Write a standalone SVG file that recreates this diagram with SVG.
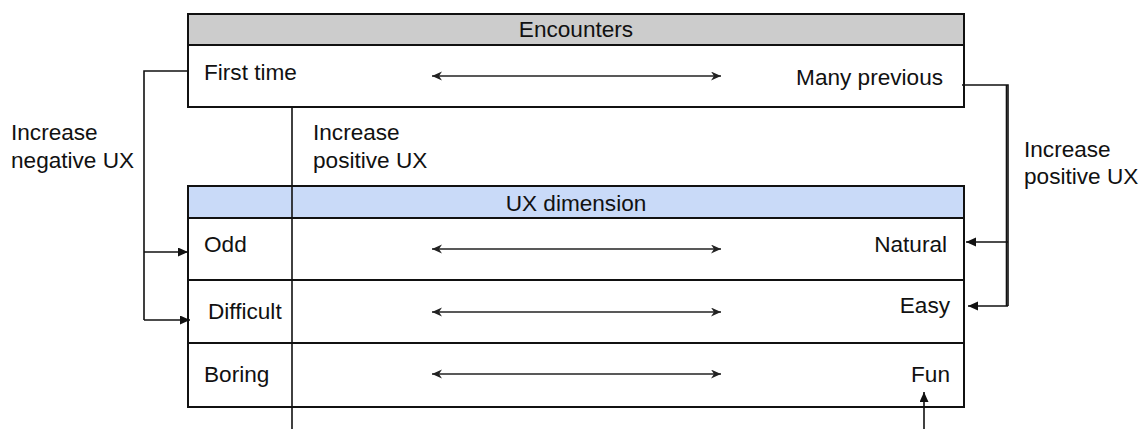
<svg xmlns="http://www.w3.org/2000/svg" width="1147" height="429" viewBox="0 0 1147 429">
  <style>
    .lbl { font-family: "Liberation Sans", Arial, sans-serif; font-size: 22.6px; fill: #111; }
    .mid { text-anchor: middle; }
    .end { text-anchor: end; }
    .box { fill: #fff; stroke: #111; stroke-width: 2; }
    .hdr-grey { fill: #cccccc; stroke: #111; stroke-width: 2; }
    .hdr-blue { fill: #c9daf8; stroke: #111; stroke-width: 2; }
    .rule { stroke: #111; stroke-width: 2; fill: none; }
    .wire { stroke: #111; stroke-width: 1.6; fill: none; }
    .range { stroke: #222; stroke-width: 1.7; fill: none; marker-start: url(#tip-small); marker-end: url(#tip-small); }
  </style>
  <defs>
    <marker id="tip-small" markerUnits="userSpaceOnUse" markerWidth="12" markerHeight="10" refX="10" refY="4.5" orient="auto-start-reverse">
      <path d="M0,0 L10,4.5 L0,9 L3,4.5 Z" fill="#222"/>
    </marker>
    <marker id="tip" markerUnits="userSpaceOnUse" markerWidth="12" markerHeight="10" refX="10" refY="4.5" orient="auto">
      <path d="M0,0 L10,4.5 L0,9 Z" fill="#111"/>
    </marker>
  </defs>

  <!-- Encounters scale -->
  <g id="encounters">
    <rect class="box" x="188" y="14" width="776" height="93"/>
    <rect class="hdr-grey" x="188" y="14" width="776" height="31"/>
    <text class="lbl mid" x="576" y="37">Encounters</text>
    <text class="lbl" x="204" y="80">First time</text>
    <text class="lbl end" x="943" y="85">Many previous</text>
    <line class="range" x1="432" y1="76" x2="721" y2="76"/>
  </g>

  <!-- UX dimension table -->
  <g id="ux-dimension">
    <rect class="box" x="188" y="186" width="776" height="221"/>
    <rect class="hdr-blue" x="188" y="186" width="776" height="32"/>
    <text class="lbl mid" x="576" y="211">UX dimension</text>
  </g>

  <g id="row-odd-natural">
    <line class="rule" x1="188" y1="280" x2="964" y2="280"/>
    <text class="lbl" x="204" y="252">Odd</text>
    <text class="lbl end" x="947" y="252">Natural</text>
    <line class="range" x1="432" y1="249" x2="721" y2="249"/>
  </g>

  <g id="row-difficult-easy">
    <line class="rule" x1="188" y1="343" x2="964" y2="343"/>
    <text class="lbl" x="208" y="319">Difficult</text>
    <text class="lbl end" x="950" y="313">Easy</text>
    <line class="range" x1="432" y1="312" x2="721" y2="312"/>
  </g>

  <g id="row-boring-fun">
    <text class="lbl" x="204" y="382">Boring</text>
    <text class="lbl end" x="950" y="382">Fun</text>
    <line class="range" x1="432" y1="374" x2="721" y2="374"/>
  </g>

  <!-- Side notes -->
  <g id="note-negative">
    <text class="lbl" x="11" y="140">Increase</text>
    <text class="lbl" x="11" y="168">negative UX</text>
  </g>
  <g id="note-positive-mid">
    <text class="lbl" x="313" y="140">Increase</text>
    <text class="lbl" x="313" y="168">positive UX</text>
  </g>
  <g id="note-positive-right">
    <text class="lbl" x="1024" y="157">Increase</text>
    <text class="lbl" x="1024" y="184">positive UX</text>
  </g>

  <!-- Connectors -->
  <g id="connectors">
    <!-- column divider running through both tables -->
    <line class="wire" x1="292" y1="107" x2="292" y2="429"/>
    <!-- first time -> odd / difficult -->
    <polyline class="wire" points="188,71 144,71 144,320"/>
    <line class="wire" x1="144" y1="252" x2="188" y2="252" marker-end="url(#tip)"/>
    <line class="wire" x1="144" y1="320" x2="190" y2="320" marker-end="url(#tip)"/>
    <!-- many previous -> natural / easy -->
    <polyline class="wire" points="962,85 1008,85 1008,306"/>
    <line class="wire" x1="1006.5" y1="85" x2="1006.5" y2="306"/>
    <line class="wire" x1="1008" y1="242" x2="966" y2="242" marker-end="url(#tip)"/>
    <line class="wire" x1="1008" y1="306" x2="968" y2="306" marker-end="url(#tip)"/>
    <!-- arrow up into fun -->
    <line class="wire" x1="924" y1="429" x2="924" y2="392" marker-end="url(#tip)"/>
  </g>
</svg>
